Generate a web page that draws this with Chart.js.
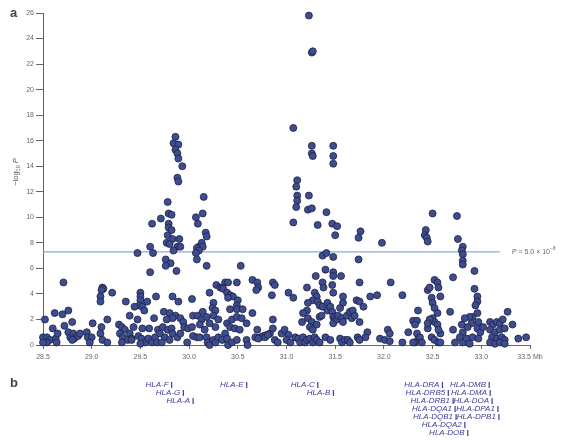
<!DOCTYPE html>
<html><head><meta charset="utf-8">
<script src="https://cdn.jsdelivr.net/npm/chart.js@4.4.0/dist/chart.umd.min.js"></script>
<style>html,body{margin:0;padding:0;background:#fff;}#wrap{width:561px;height:440px;position:relative;}</style>
</head><body><div id="wrap"><canvas id="c" width="561" height="440"></canvas></div>
<script>
// ---- axis ticks ----
const xTickValues = [28.5, 29.0, 29.5, 30.0, 30.5, 31.0, 31.5, 32.0, 32.5, 33.0, 33.5];
const yTickValues = [0, 2, 4, 6, 8, 10, 12, 14, 16, 18, 20, 22, 24, 26];
// ---- genome-wide threshold P = 5.0e-8 ----
const thresholdLogP = 7.3;
const thresholdSpan = [28.5, 33.19];
// ---- genes (panel b) ----
const geneNames = ['HLA-F','HLA-G','HLA-A','HLA-E','HLA-C','HLA-B','HLA-DRA','HLA-DRB5','HLA-DRB1','HLA-DQA1','HLA-DQB1','HLA-DQA2','HLA-DOB','HLA-DMB','HLA-DMA','HLA-DOA','HLA-DPA1','HLA-DPB1'];
const geneMb    = [29.82, 29.94, 30.04, 30.59, 31.32, 31.48, 32.60, 32.66, 32.71, 32.73, 32.74, 32.83, 32.86, 33.08, 33.09, 33.11, 33.17, 33.18];
const geneRow   = [0, 1, 2, 0, 0, 1, 0, 1, 2, 3, 4, 5, 6, 0, 1, 2, 3, 4];
// ---- SNPs: [position Mb, -log10 P] ----
const snpsTelomeric = [
 [29.60,7.7],[29.47,7.2],[29.63,7.2],[29.60,5.7],[28.71,4.9],[29.11,4.5],[29.12,4.4],[29.10,4.3],[29.09,3.8],[29.09,3.4],
 [29.21,4.1],[29.35,3.4],[29.50,4.1],[29.50,3.8],[29.50,3.5],[29.49,3.1],[29.52,3.0],[29.54,2.7],[29.57,3.4],[29.44,3.0],
 [29.66,3.8],[29.64,2.1],[28.52,2.0],[28.62,2.5],[28.70,2.4],[28.76,2.7],[28.80,1.8],[28.72,1.5],[28.60,1.3],[29.01,1.7],
 [29.16,2.0],[29.10,1.4],[29.28,1.6],[29.31,1.4],[29.34,1.2],[29.39,2.3],[29.43,1.4],[29.47,2.0],[29.52,1.3],[29.59,1.3],
 [29.68,1.2],[29.39,0.9],[29.41,0.5],[28.50,0.6],[28.54,0.6],[28.57,0.4],[28.54,0.2],[28.50,0.2],[28.63,0.5],[28.64,0.2],
 [28.65,0.9],[28.76,1.0],[28.78,0.6],[28.81,0.9],[28.82,0.5],[28.86,0.7],[28.88,0.9],[28.80,0.4],[28.95,1.0],[28.96,0.6],
 [29.00,0.6],[28.98,0.2],[29.09,0.9],[29.11,0.4],[29.16,0.2],[29.29,0.9],[29.32,0.6],[29.37,0.4],[29.41,0.4],[29.31,0.2],
 [29.48,0.7],[29.51,0.5],[29.55,0.2],[29.58,0.5],[29.62,0.2],[29.65,0.6],[29.67,0.2],[29.50,0.1],[29.70,0.9]
];
const snpsClassI_A = [
 [29.86,16.3],[29.84,15.8],[29.89,15.7],[29.86,15.3],[29.88,15.0],[29.89,14.6],[29.93,14.0],[29.88,13.1],[29.89,12.8],[29.78,11.2],
 [29.62,9.5],[29.71,9.9],[29.79,10.3],[29.82,10.2],[29.79,9.5],[29.79,9.2],[29.82,9.0],[29.78,8.6],[29.83,8.3],[29.90,8.3],
 [29.77,8.0],[29.80,7.9],[29.88,7.7],[29.91,7.7],[29.84,7.4],[29.76,6.7],[29.81,6.4],[29.76,6.2],[29.87,5.8],
 [30.15,11.6],[30.07,10.0],[30.14,10.3],[30.09,9.5],[30.17,8.8],[30.18,8.5],[30.10,7.7],[30.13,8.0],[30.14,7.7],[30.08,7.6],
 [30.10,7.4],[30.07,7.2],[30.08,6.7],[30.18,6.2],[30.53,6.2],[30.65,5.1],[30.70,4.9],[30.71,4.5],[30.69,4.3],[30.86,4.9],
 [30.88,4.7],[31.02,4.1],[31.07,3.7]
];
const snpsClassI_mid = [
 [30.28,4.7],[30.32,4.5],[30.37,4.9],[30.40,4.9],[30.34,4.5],[30.35,4.4],[30.49,4.9],[30.39,4.1],[30.42,3.9],[30.45,3.8],
 [30.40,3.7],[30.85,3.9],[29.83,3.8],[30.03,3.6],[29.89,3.4],[30.21,4.1],[30.25,3.3],[30.24,2.9],[30.27,2.7],[30.50,3.5],
 [30.49,3.1],[30.42,2.8],[30.49,2.8],[30.55,2.8],[30.65,2.5],[29.74,2.6],[29.80,2.5],[29.86,2.3],[29.83,2.1],[29.77,2.0],
 [29.91,2.1],[29.94,1.8],[29.95,1.4],[30.04,2.3],[30.09,2.3],[30.14,2.6],[30.13,2.0],[30.18,2.2],[30.11,1.6],[30.25,2.3],
 [30.30,2.0],[30.21,1.7],[30.27,1.4],[30.39,1.7],[30.44,2.0],[30.49,2.2],[30.54,2.1],[30.42,1.4],[30.47,1.3],[30.52,1.2],
 [30.59,1.7],[30.70,1.2],[30.73,0.6],[30.76,0.7],[30.80,0.8],[30.83,0.9],[30.86,2.0],[30.86,1.3],[29.73,1.4],[29.78,1.2],
 [29.82,1.3],[29.83,0.9],[29.75,0.6],[29.72,0.2],[29.80,0.4],[29.88,0.6],[29.91,0.9],[29.99,1.3],[30.03,1.4],[30.04,0.7],
 [30.08,0.6],[29.98,0.2],[30.11,0.6],[30.16,1.2],[30.18,0.6],[30.19,0.2],[30.21,0.0],[30.25,0.4],[30.27,0.2],[30.30,0.6],
 [30.34,0.4],[30.37,0.9],[30.39,0.5],[30.40,0.0],[30.44,0.2],[30.49,0.4],[30.59,0.4],[30.60,0.0],[30.68,0.6],[30.71,0.5],
 [30.78,0.6],[30.81,0.8],[30.88,0.4],[30.91,0.2]
];
const snpsClassI_BC = [
 [31.07,17.0],[31.11,12.9],[31.10,12.4],[31.11,11.7],[31.11,11.3],[31.10,10.8],[31.07,9.6],
 [31.23,25.8],[31.26,22.9],[31.27,23.0],[31.26,15.6],[31.26,15.0],[31.27,14.8],[31.48,15.6],[31.48,14.8],[31.48,14.2],
 [31.23,11.7],[31.22,10.6],[31.26,10.7],[31.41,10.4],[31.32,9.4],[31.47,9.5],[31.52,9.3],[31.50,8.6],[31.76,8.9],[31.74,8.4],
 [31.98,8.0],[31.37,7.0],[31.41,7.2],[31.48,6.9],[31.74,6.7],
 [31.30,5.4],[31.40,5.9],[31.48,5.7],[31.48,5.4],[31.56,5.4],[31.37,4.9],[31.38,4.5],[31.48,4.1],[31.47,4.7],[31.75,4.9],
 [31.21,4.5],[31.29,4.1],[31.31,3.8],[31.27,3.5],[31.32,3.4],[31.34,3.1],[31.37,3.0],[31.22,3.3],[31.21,2.7],[31.17,2.5],
 [31.16,1.8],[31.22,2.1],[31.26,1.8],[31.24,1.4],[31.27,1.2],[31.31,1.6],[31.34,2.2],[31.36,2.3],[31.42,3.3],[31.42,2.7],
 [31.45,3.0],[31.47,2.6],[31.48,2.2],[31.50,2.1],[31.48,1.7],[31.52,2.0],[31.53,2.3],[31.55,2.9],[31.58,3.8],[31.58,3.3],
 [31.57,2.1],[31.58,1.8],[31.62,2.3],[31.65,2.6],[31.67,2.1],[31.68,2.7],[31.70,2.3],[31.75,1.8],[31.72,3.5],[31.75,3.4],
 [31.79,3.0],[31.86,3.8],[31.93,3.9],[31.83,1.0],[31.81,0.6],
 [30.95,0.9],[30.98,1.2],[31.02,0.8],[31.00,0.4],[31.04,0.2],[31.09,0.6],[31.12,0.5],[31.14,0.2],[31.17,0.6],[31.19,0.2],
 [31.21,0.4],[31.24,0.5],[31.27,0.2],[31.29,0.6],[31.31,0.4],[31.34,0.2],[31.40,0.6],[31.45,0.4],[31.55,0.5],[31.57,0.2],
 [31.60,0.4],[31.63,0.4],[31.65,0.2],[31.73,0.6],[31.75,0.4],[31.96,0.5],[32.01,0.4],[32.04,1.2],[32.06,0.3],[32.06,0.9]
];
const snpsClassII = [
 [32.07,4.9],[32.19,3.9],[32.19,0.2],[32.25,1.0],[32.30,1.9],[32.34,1.9],[32.35,2.7],[32.32,1.6],[32.34,0.9],[32.35,0.4],
 [32.37,0.6],[32.32,0.2],[32.39,0.2],[32.30,0.2],[32.43,9.0],[32.42,8.6],[32.44,8.4],[32.45,8.1],[32.50,10.3],[32.45,4.3],
 [32.47,4.5],[32.52,5.1],[32.55,4.9],[32.56,4.5],[32.49,3.7],[32.50,3.3],[32.52,2.9],[32.55,2.5],[32.50,2.1],[32.52,1.8],
 [32.55,1.6],[32.58,3.8],[32.58,0.9],[32.47,2.0],[32.45,1.3],[32.49,0.6],[32.52,0.4],[32.56,0.2],[32.68,2.6],[32.71,5.3],
 [32.71,1.2],[32.73,0.2],[32.45,1.7],[32.56,1.2],[32.58,0.2],[32.75,10.1],[32.76,8.3],[32.81,7.7],[32.80,7.4],[32.81,7.1],
 [32.81,6.6],[32.81,6.3],[32.93,5.8],[32.93,4.4],[32.96,3.8],[32.96,3.4],[32.94,3.1],[32.96,2.5],[32.91,2.2],[32.88,2.2],
 [32.83,2.1],[32.97,1.8],[32.90,1.7],[32.86,1.4],[32.80,1.6],[32.81,1.0],[32.96,1.3],[32.99,1.0],[33.02,1.4],[32.78,0.6],
 [32.81,0.2],[32.85,0.5],[32.88,0.1],[32.91,0.6],[32.97,0.5],[33.09,1.8],[33.12,1.6],[33.16,1.8],[33.19,1.7],[33.22,2.0],
 [33.09,1.2],[33.14,1.0],[33.19,1.2],[33.24,1.3],[33.11,0.6],[33.16,0.5],[33.21,0.6],[33.24,0.4],[33.09,0.2],[33.14,0.1],
 [33.19,0.2],[33.24,0.1],[33.27,2.6],[33.32,1.6],[33.38,0.5],[33.46,0.6]
];

const FONT = '"Liberation Sans", Arial, sans-serif';
const toXY = arr => arr.map(p => ({x: p[0], y: p[1]}));
const allSnps = [].concat(toXY(snpsTelomeric), toXY(snpsClassI_A), toXY(snpsClassI_mid), toXY(snpsClassI_BC), toXY(snpsClassII));

const overlay = {
  id: 'overlay',
  afterDraw(chart) {
    const ctx = chart.ctx, xs = chart.scales.x, ys = chart.scales.y;
    ctx.save();
    // panel letters
    ctx.fillStyle = '#444';
    ctx.font = 'bold 13px ' + FONT;
    ctx.textAlign = 'left'; ctx.textBaseline = 'middle';
    ctx.fillText('a', 10, 13);
    ctx.fillText('b', 10, 383);
    // y axis title: -log10 P
    ctx.save();
    ctx.translate(16, 172);
    ctx.rotate(-Math.PI / 2);
    ctx.fillStyle = '#555';
    const parts = [
      {t: '\u2212log', f: '7.5px ' + FONT, dy: 0},
      {t: '10', f: '5.5px ' + FONT, dy: 2},
      {t: ' P', f: 'italic 7.5px ' + FONT, dy: 0}
    ];
    let w = 0;
    parts.forEach(p => { ctx.font = p.f; p.w = ctx.measureText(p.t).width; w += p.w; });
    let px = -w / 2;
    ctx.textAlign = 'left'; ctx.textBaseline = 'middle';
    parts.forEach(p => { ctx.font = p.f; ctx.fillText(p.t, px, p.dy); px += p.w; });
    ctx.restore();
    // threshold label
    const ty = ys.getPixelForValue(thresholdLogP);
    let lx = xs.getPixelForValue(thresholdSpan[1]) + 12;
    ctx.fillStyle = '#666';
    ctx.textBaseline = 'middle'; ctx.textAlign = 'left';
    const lp = [
      {t: 'P', f: 'italic 7px ' + FONT, dy: 0},
      {t: ' = 5.0 \u00d7 10', f: '7px ' + FONT, dy: 0},
      {t: '\u22128', f: '5px ' + FONT, dy: -3}
    ];
    lp.forEach(p => { ctx.font = p.f; ctx.fillText(p.t, lx, ty + p.dy); lx += ctx.measureText(p.t).width; });
    // genes
    ctx.fillStyle = '#3c3c9c';
    ctx.font = 'italic 8px ' + FONT;
    ctx.textAlign = 'right'; ctx.textBaseline = 'middle';
    geneNames.forEach((g, i) => {
      const gx = xs.getPixelForValue(geneMb[i]);
      const gy = 385 + geneRow[i] * 8;
      ctx.fillText(g, gx - 3, gy);
      ctx.fillRect(gx - 0.5, gy - 3, 1.2, 6);
    });
    ctx.restore();
  }
};

new Chart(document.getElementById('c'), {
  type: 'scatter',
  data: {
    datasets: [
      {
        data: allSnps,
        backgroundColor: '#3e4c90',
        borderColor: '#1d2244',
        borderWidth: 0.8,
        pointRadius: 3.5,
        pointHoverRadius: 3.5,
        clip: false,
        order: 0
      },
      {
        data: [{x: thresholdSpan[0], y: thresholdLogP}, {x: thresholdSpan[1], y: thresholdLogP}],
        showLine: true,
        borderColor: '#8aa9e6',
        borderWidth: 1.3,
        pointRadius: 0,
        clip: false,
        order: 1
      }
    ]
  },
  options: {
    responsive: false,
    animation: false,
    devicePixelRatio: 1,
    layout: {padding: {left: 0, top: 13, right: 31, bottom: 75}},
    plugins: {legend: {display: false}, tooltip: {enabled: false}},
    scales: {
      x: {
        type: 'linear', min: 28.5, max: 33.5,
        afterBuildTicks: s => { s.ticks = xTickValues.map(v => ({value: v})); },
        afterFit: s => { s.height = 20; },
        grid: {drawOnChartArea: false, drawTicks: true, tickLength: 4, color: '#666'},
        border: {display: true, color: '#666', width: 1},
        ticks: {color: '#666', font: {family: FONT, size: 7}, padding: 4, maxRotation: 0, autoSkip: false,
          callback: (v, i) => (i === xTickValues.length - 1 ? v.toFixed(1) + ' Mb' : v.toFixed(1))}
      },
      y: {
        type: 'linear', min: 0, max: 26,
        afterBuildTicks: s => { s.ticks = yTickValues.map(v => ({value: v})); },
        afterFit: s => { s.width = 43; },
        grid: {drawOnChartArea: false, drawTicks: true, tickLength: 7, color: '#666'},
        border: {display: true, color: '#666', width: 1},
        ticks: {color: '#666', font: {family: FONT, size: 7}, padding: 2, autoSkip: false,
          callback: v => String(v)}
      }
    }
  },
  plugins: [overlay]
});
</script></body></html>
